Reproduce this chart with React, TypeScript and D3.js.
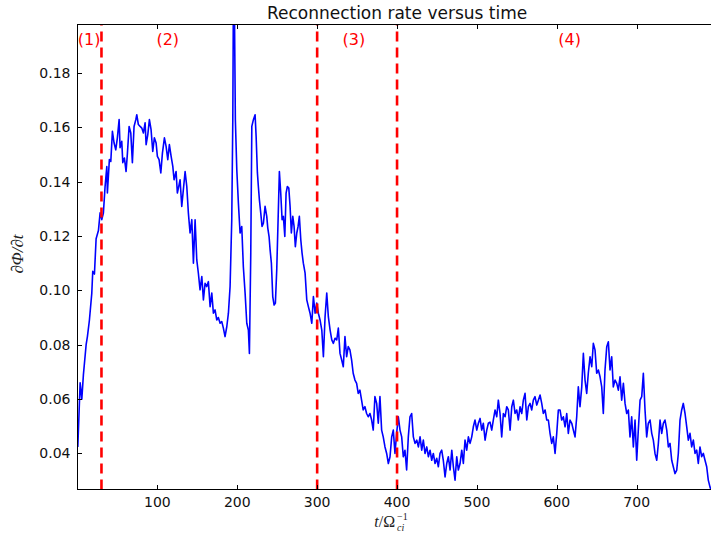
import React from "react";
import * as d3 from "d3";

const times = [
  0.4, 3.3, 5.4, 7.4, 10.8, 12.4, 14.9, 17.9, 19.1, 21.2, 23.3, 26.2, 28.3, 30.4,
  32.4, 34.5, 36.7, 37.4, 39.9, 41.7, 43.7, 45.8, 47.9, 49.9, 52.1, 53.3, 55.4, 56.7, 58.7, 60.8,
  62.5, 64.6, 66.7, 68.7, 70.8, 73.0, 74.2, 76.2, 78.4, 80.5, 82.5, 84.6, 85.9, 88.0, 90.0, 92.1,
  94.2, 96.2, 98.4, 100.0, 102.1, 104.3, 106.3, 108.8, 110.9, 113.0, 115.0, 117.2, 119.3, 120.9,
  123.4, 125.0, 127.2,
  128.4, 130.5, 132.5, 134.7, 136.8, 138.8, 140.9, 143.1, 145.1, 147.2, 149.3, 151.3, 153.4, 155.6,
  157.6, 159.7, 161.8, 163.8, 166.0, 168.1, 170.1, 172.2, 174.3, 176.3, 178.5, 180.6, 182.6, 184.7,
  186.9, 188.9, 191.0, 193.1, 194.4, 195.1, 196.4, 197.6, 199.4, 201.4, 203.5, 205.6, 207.6, 209.8,
  211.9, 213.9, 215.2, 216.9, 218.2, 220.2, 222.3, 223.6, 225.2, 226.4, 227.7, 229.4, 231.0, 232.7,
  234.8, 236.9, 238.2, 239.8, 241.1, 242.7, 244.4, 246.1, 247.7, 249.4, 251.1, 252.7, 254.4, 256.1,
  257.7, 259.5, 261.1, 262.7, 264.5, 266.1, 267.7, 269.5, 271.1, 272.7, 274.5, 276.1, 277.7, 279.5,
  281.1, 282.7, 284.9, 287.0, 289.0, 291.1, 293.3, 295.3, 297.4, 299.5, 301.5, 303.6, 305.8, 307.8,
  309.9, 312.0, 314.0, 316.2, 318.3, 320.3, 322.4, 324.5, 326.5, 328.6, 330.7, 332.7, 334.8, 336.9,
  338.9, 341.0, 343.1, 345.1, 347.3, 349.4, 351.4, 353.5, 355.6, 357.6, 359.8, 361.9, 363.9, 366.1,
  368.2, 370.2, 372.3, 374.5, 376.5, 378.6, 380.7, 382.7, 384.9, 387.0, 389.1, 391.2, 393.3, 395.3,
  397.4, 399.5, 401.6, 403.7, 405.8, 407.8, 409.9, 412.0, 414.1, 416.2, 418.3, 420.4, 422.5, 424.7,
  426.7, 428.8, 430.9, 432.9, 435.0, 437.2, 439.2, 441.3, 443.4, 445.4, 447.6, 449.7, 451.7, 453.8,
  455.9, 457.9, 460.1, 462.2, 464.2, 466.4, 468.5, 470.5, 472.6, 474.7, 476.7, 478.9, 481.0, 483.0,
  485.1, 487.2, 489.3, 491.4, 493.5, 495.5, 497.6, 499.8, 501.8, 503.9, 506.0, 508.0, 510.2, 512.3,
  514.3, 516.4,
  518.5, 520.5, 522.7, 524.8, 526.8, 528.9, 531.0, 533.1, 535.2, 537.3, 539.3, 541.5, 543.6, 545.6,
  547.7, 549.8, 551.8, 554.0, 556.1, 558.1, 560.2, 562.4, 564.4, 566.5, 568.6, 570.6, 572.7, 574.9,
  576.9, 579.0, 581.1, 583.1, 585.3, 587.4, 589.4, 591.5, 593.6, 595.6, 597.8, 599.9, 601.9, 604.0,
  606.1, 608.2, 610.3, 612.4, 614.4, 616.5, 618.7, 620.7, 622.8, 624.9, 626.9, 629.0, 631.2, 633.2,
  635.3, 637.4, 639.4, 641.6, 643.7, 645.7, 647.8, 649.9, 652.0, 654.1, 656.2, 658.2, 660.3, 662.5,
  664.5, 666.6, 668.7, 670.7, 672.9, 675.0, 677.0, 679.1, 681.2, 683.3, 685.4, 687.5, 689.5, 691.6,
  693.7, 695.8, 697.9, 700.0, 702.0, 704.2, 706.3, 708.3, 710.4, 712.5, 714.5, 716.7, 718.8, 720.8,
  722.9, 725.1, 727.1, 729.2, 731.3, 733.3, 735.4, 737.6, 739.6, 741.7, 743.8, 745.8, 747.9, 750.1,
  752.1, 754.2, 756.3, 758.3, 760.5, 762.6, 764.6, 766.7, 768.8, 770.9, 773.0, 775.1, 777.1, 779.2,
  781.3, 783.4, 785.5, 787.6, 789.6, 791.7, 793.5,
];

const rates = [
  0.0424, 0.066, 0.060, 0.069, 0.080, 0.083, 0.089, 0.099, 0.107, 0.106, 0.119, 0.122, 0.1285, 0.126,
  0.1284, 0.1381, 0.1455, 0.1358, 0.1481, 0.1474, 0.1585, 0.1542, 0.1517, 0.1561, 0.1628, 0.1525, 0.1548, 0.1470, 0.1487, 0.1437,
  0.1505, 0.1603, 0.1579, 0.1470, 0.1603, 0.1628, 0.1646, 0.1610, 0.1603, 0.1597, 0.1579, 0.1616, 0.1536, 0.1573, 0.1628, 0.1591,
  0.1511, 0.1561, 0.1542, 0.1493, 0.1481, 0.1432, 0.1505, 0.1561, 0.1530, 0.1481, 0.1536, 0.1493, 0.1456, 0.1407,
  0.1437, 0.1358, 0.1389,
  0.1407, 0.1309, 0.1370, 0.1437, 0.1382, 0.1284, 0.1211, 0.1260, 0.1100, 0.1260, 0.1112, 0.1063, 0.1002, 0.1051,
  0.0965, 0.1026, 0.1014, 0.1032, 0.0940, 0.0990, 0.0916, 0.0928, 0.0891, 0.0900, 0.0879, 0.0885, 0.0861, 0.0830,
  0.0867, 0.0916, 0.1014, 0.1260, 0.1628, 0.2050, 0.2050, 0.1628, 0.1444, 0.1321, 0.1211, 0.1235, 0.1087, 0.0990,
  0.0879, 0.0854, 0.0768, 0.1137, 0.1603, 0.1628, 0.1646, 0.1566, 0.1432, 0.1382, 0.1333, 0.1284, 0.1235, 0.1247,
  0.1309, 0.1272, 0.1229, 0.1198, 0.1149, 0.1100, 0.0977, 0.0946, 0.0953, 0.1075, 0.1260, 0.1437, 0.1358, 0.1260,
  0.1272, 0.1198, 0.1358, 0.1382, 0.1376, 0.1309, 0.1211, 0.1272, 0.1235, 0.1161, 0.1211, 0.1235, 0.1272, 0.1186,
  0.1137, 0.1100, 0.1063, 0.0965, 0.0940, 0.0916, 0.0879, 0.0977, 0.0916, 0.0953, 0.0916, 0.0891, 0.0854, 0.0756,
  0.0903, 0.0990, 0.0903, 0.0854, 0.0818, 0.0805, 0.0824, 0.0818, 0.0861, 0.0768, 0.0744, 0.0719, 0.0830, 0.0756,
  0.0793, 0.0781, 0.0744, 0.0695, 0.0670, 0.0658, 0.0621, 0.0633, 0.0596, 0.0560, 0.0572, 0.0547, 0.0535, 0.0547,
  0.0523, 0.0486, 0.0609, 0.0584, 0.0511, 0.0609, 0.0486, 0.0461, 0.0424, 0.0400, 0.0363, 0.0388, 0.0461, 0.0486,
  0.0400, 0.0474, 0.0535, 0.0486, 0.0461, 0.0388, 0.0412, 0.0339, 0.0461, 0.0535, 0.0547, 0.0461, 0.0437, 0.0449,
  0.0424, 0.0461, 0.0412, 0.0449, 0.0400, 0.0424, 0.0388, 0.0412, 0.0375, 0.0400, 0.0363, 0.0382, 0.0351, 0.0400,
  0.0412, 0.0375, 0.0314, 0.0363, 0.0388, 0.0339, 0.0412, 0.0351, 0.0302, 0.0388, 0.0339, 0.0363, 0.0412, 0.0363,
  0.0449, 0.0412, 0.0461, 0.0437, 0.0461, 0.0498, 0.0523, 0.0486, 0.0511, 0.0529, 0.0486, 0.0511, 0.0449, 0.0486,
  0.0511, 0.0515,
  0.0486, 0.0523, 0.0560, 0.0535, 0.0596, 0.0547, 0.0461, 0.0547, 0.0535, 0.0572, 0.0560, 0.0486, 0.0572, 0.0596,
  0.0547, 0.0560, 0.0523, 0.0572, 0.0547, 0.0596, 0.0621, 0.0523, 0.0572, 0.0584, 0.0560, 0.0596, 0.0609, 0.0578,
  0.0596, 0.0615, 0.0584, 0.0547, 0.0560, 0.0523, 0.0523, 0.0474, 0.0437, 0.0461, 0.0400, 0.0474, 0.0560, 0.0560,
  0.0523, 0.0535, 0.0498, 0.0547, 0.0474, 0.0523, 0.0511, 0.0486, 0.0461, 0.0535, 0.0645, 0.0572, 0.0645, 0.0768,
  0.0670, 0.0621, 0.0695, 0.0756, 0.0719, 0.0805, 0.0781, 0.0695, 0.0707, 0.0682, 0.0645, 0.0547, 0.0707, 0.0793,
  0.0811, 0.0707, 0.0756, 0.0645, 0.0670, 0.0658, 0.0633, 0.0682, 0.0596, 0.0658, 0.0584, 0.0547, 0.0560, 0.0461,
  0.0535, 0.0424, 0.0523, 0.0375, 0.0486, 0.0596, 0.0609, 0.0695, 0.0560, 0.0461, 0.0511, 0.0523, 0.0474, 0.0449,
  0.0400, 0.0375, 0.0437, 0.0523, 0.0474, 0.0511, 0.0523, 0.0486, 0.0424, 0.0437, 0.0375, 0.0351, 0.0326, 0.0339,
  0.0400, 0.0523, 0.0560, 0.0584, 0.0547, 0.0498, 0.0449, 0.0474, 0.0424, 0.0449, 0.0400, 0.0412, 0.0363, 0.0424,
  0.0388, 0.0400, 0.0375, 0.0351, 0.0302, 0.0277, 0.0262,
];

const xTicks = [100, 200, 300, 400, 500, 600, 700];
const yTicks = [0.04, 0.06, 0.08, 0.1, 0.12, 0.14, 0.16, 0.18];
const phaseLines = [30, 300, 400];
const phaseLabels = ["(1)", "(2)", "(3)", "(4)"];
const phaseLabelTimes = [14.5, 113, 346, 616];
const phaseLabelLevel = 0.1904;
const title = "Reconnection rate versus time";

const W = 711;
const H = 543;
const L = 77.5;
const R = 716.6;
const T = 24.5;
const B = 489.5;

export default function App() {
  const x = d3.scaleLinear().domain([0, 800]).range([L, R]);
  const y = d3.scaleLinear().domain([0.02674, 0.1978]).range([B, T]);
  const pts: [number, number][] = times.map((t, i) => [t, rates[i]]);
  const line = d3
    .line<[number, number]>()
    .x((d) => x(d[0]))
    .y((d) => y(d[1]));
  const tick = 4.5;
  const font = "'DejaVu Sans', sans-serif";
  const mathFont = "'Liberation Serif', 'DejaVu Serif', serif";
  const cx = (L + R) / 2;
  const cy = (T + B) / 2;

  return (
    <svg
      width={W}
      height={H}
      viewBox={`0 0 ${W} ${H}`}
      style={{ position: "absolute", left: 0, top: 0, background: "#fff" }}
    >
      <defs>
        <clipPath id="plotArea">
          <rect x={L} y={T} width={R - L} height={B - T} />
        </clipPath>
      </defs>
      <rect x={0} y={0} width={W} height={H} fill="#fff" />

      <g clipPath="url(#plotArea)">
        <path d={line(pts) || ""} fill="none" stroke="#0000ff" strokeWidth={1.6} strokeLinejoin="round" />
        {phaseLines.map((t) => (
          <line
            key={t}
            x1={x(t)}
            x2={x(t)}
            y1={B}
            y2={T}
            stroke="#ff0000"
            strokeWidth={2.6}
            strokeDasharray="10,6"
          />
        ))}
      </g>

      {phaseLabels.map((lab, i) => (
        <text
          key={lab}
          x={x(phaseLabelTimes[i])}
          y={y(phaseLabelLevel)}
          textAnchor="middle"
          fontFamily={font}
          fontSize={16}
          fill="#ff0000"
        >
          {lab}
        </text>
      ))}

      <rect x={L} y={T} width={R - L} height={B - T} fill="none" stroke="#000" strokeWidth={1} />

      {yTicks.map((v) => (
        <g key={v}>
          <line x1={L} x2={L + tick} y1={Math.round(y(v)) + 0.5} y2={Math.round(y(v)) + 0.5} stroke="#000" strokeWidth={1} />
          <text x={L - 7} y={y(v) + 5} textAnchor="end" fontFamily={font} fontSize={14} fill="#111">
            {d3.format(".2f")(v)}
          </text>
        </g>
      ))}

      {xTicks.map((t) => (
        <g key={t}>
          <line x1={Math.round(x(t)) + 0.5} x2={Math.round(x(t)) + 0.5} y1={B} y2={B - tick} stroke="#000" strokeWidth={1} />
          <line x1={Math.round(x(t)) + 0.5} x2={Math.round(x(t)) + 0.5} y1={T} y2={T + tick} stroke="#000" strokeWidth={1} />
          <text x={x(t)} y={B + 17} textAnchor="middle" fontFamily={font} fontSize={14} fill="#111">
            {t}
          </text>
        </g>
      ))}

      <text x={cx} y={18.5} textAnchor="middle" fontFamily={font} fontSize={17} fill="#111">
        {title}
      </text>

      <g fontFamily={mathFont} fill="#222">
        <text x={cx - 2} y={527} textAnchor="end" fontSize={16}>
          <tspan fontStyle="italic">t</tspan>
          <tspan>/Ω</tspan>
        </text>
        <text x={cx} y={520} fontSize={10}>
          −1
        </text>
        <text x={cx} y={531} fontSize={10} fontStyle="italic">
          ci
        </text>
      </g>

      <text
        transform={`translate(23, ${cy - 3}) rotate(-90)`}
        textAnchor="middle"
        fontFamily={mathFont}
        fontSize={17}
        fontStyle="italic"
        fill="#222"
      >
        ∂Φ/∂t
      </text>
    </svg>
  );
}
